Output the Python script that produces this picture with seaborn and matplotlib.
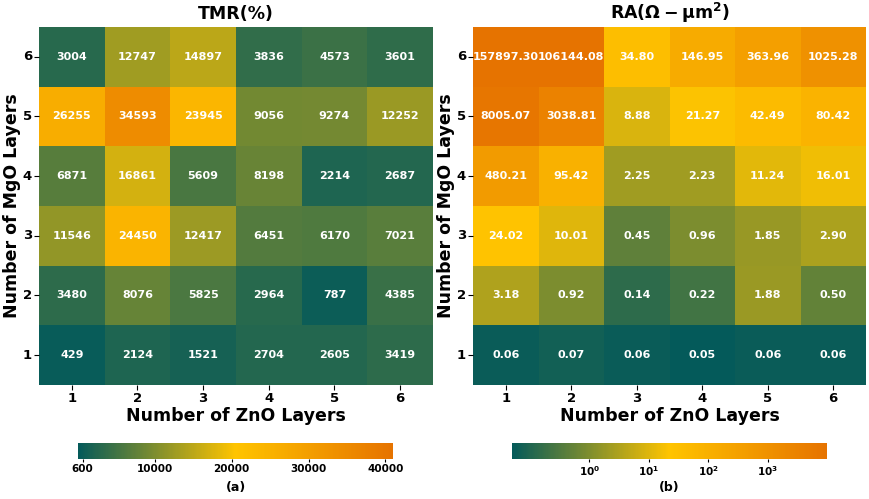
import numpy as np
import pandas as pd
import seaborn as sns
import matplotlib.pyplot as plt
from matplotlib.colors import LinearSegmentedColormap, LogNorm

# layer counts (rows top to bottom: MgO 6 -> 1)
mgo_layers = [6, 5, 4, 3, 2, 1]
zno_layers = [1, 2, 3, 4, 5, 6]

tmr = [
    [3004, 12747, 14897, 3836, 4573, 3601],
    [26255, 34593, 23945, 9056, 9274, 12252],
    [6871, 16861, 5609, 8198, 2214, 2687],
    [11546, 24450, 12417, 6451, 6170, 7021],
    [3480, 8076, 5825, 2964, 787, 4385],
    [429, 2124, 1521, 2704, 2605, 3419],
]

ra = [
    [157897.30, 106144.08, 34.80, 146.95, 363.96, 1025.28],
    [8005.07, 3038.81, 8.88, 21.27, 42.49, 80.42],
    [480.21, 95.42, 2.25, 2.23, 11.24, 16.01],
    [24.02, 10.01, 0.45, 0.96, 1.85, 2.90],
    [3.18, 0.92, 0.14, 0.22, 1.88, 0.50],
    [0.06, 0.07, 0.06, 0.05, 0.06, 0.06],
]

tmr_ticks = [600, 10000, 20000, 30000, 40000]
ra_ticks = [1, 10, 100, 1000]

df_tmr = pd.DataFrame(tmr, index=mgo_layers, columns=zno_layers)
df_ra = pd.DataFrame(ra, index=mgo_layers, columns=zno_layers)

plt.rcParams['font.weight'] = 'bold'
plt.rcParams['axes.labelweight'] = 'bold'
plt.rcParams['axes.titleweight'] = 'bold'

cmap = LinearSegmentedColormap.from_list('tealgold', ['#045a5a', '#ffc400', '#e67300'])

fig = plt.figure(figsize=(8.7, 4.99), dpi=100)
ax1 = fig.add_axes([0.0448, 0.2285, 0.4529, 0.7174])
ax2 = fig.add_axes([0.5437, 0.2285, 0.4517, 0.7174])
cax1 = fig.add_axes([0.0897, 0.0802, 0.3621, 0.0321])
cax2 = fig.add_axes([0.5885, 0.0802, 0.3621, 0.0321])

annot_kw = {'size': 8, 'weight': 'bold', 'color': 'white'}

sns.heatmap(df_tmr, ax=ax1, cbar_ax=cax1, cmap=cmap, vmin=0, vmax=41000,
            annot=True, fmt='d', annot_kws=annot_kw,
            cbar_kws={'orientation': 'horizontal', 'ticks': tmr_ticks})
sns.heatmap(df_ra, ax=ax2, cbar_ax=cax2, cmap=cmap, norm=LogNorm(vmin=0.05, vmax=10000),
            annot=True, fmt='.2f', annot_kws=annot_kw,
            cbar_kws={'orientation': 'horizontal'})

for t in ax1.texts + ax2.texts:
    t.set_color('white')

ax1.set_title('TMR(%)', fontsize=12.5, fontweight='bold', pad=6)
ax2.set_title(r'$\mathbf{RA(\Omega-\mu m^2)}$', fontsize=12.5, pad=6)

for ax in (ax1, ax2):
    ax.set_xlabel('Number of ZnO Layers', fontsize=12.5, fontweight='bold')
    ax.set_ylabel('Number of MgO Layers', fontsize=12.5, fontweight='bold')
    ax.tick_params(axis='both', labelsize=9.5, length=3.5, width=0.8, pad=1.5)
    ax.set_yticklabels(ax.get_yticklabels(), rotation=0, fontweight='bold')
    ax.set_xticklabels(ax.get_xticklabels(), rotation=0, fontweight='bold')
    ax.xaxis.set_label_coords(0.5, -0.062)
    ax.yaxis.set_label_coords(-0.045, 0.5)

cax1.tick_params(labelsize=7.5, length=2, width=0.8, pad=1.5)
cax1.set_xticks(tmr_ticks)
cax1.set_xticklabels([str(v) for v in tmr_ticks], fontweight='bold')

cax2.minorticks_off()
cax2.set_xticks(ra_ticks)
cax2.set_xticklabels([r'$\mathbf{10^{%d}}$' % int(np.log10(v)) for v in ra_ticks])
cax2.tick_params(labelsize=7.5, length=2, width=0.8, pad=1.5, which='major')
cax2.tick_params(which='minor', length=0)

fig.text(236 / 870, 1 - 488 / 499, '(a)', ha='center', va='center', fontsize=9, fontweight='bold')
fig.text(669 / 870, 1 - 488 / 499, '(b)', ha='center', va='center', fontsize=9, fontweight='bold')

fig.savefig('out.png', dpi=100)
